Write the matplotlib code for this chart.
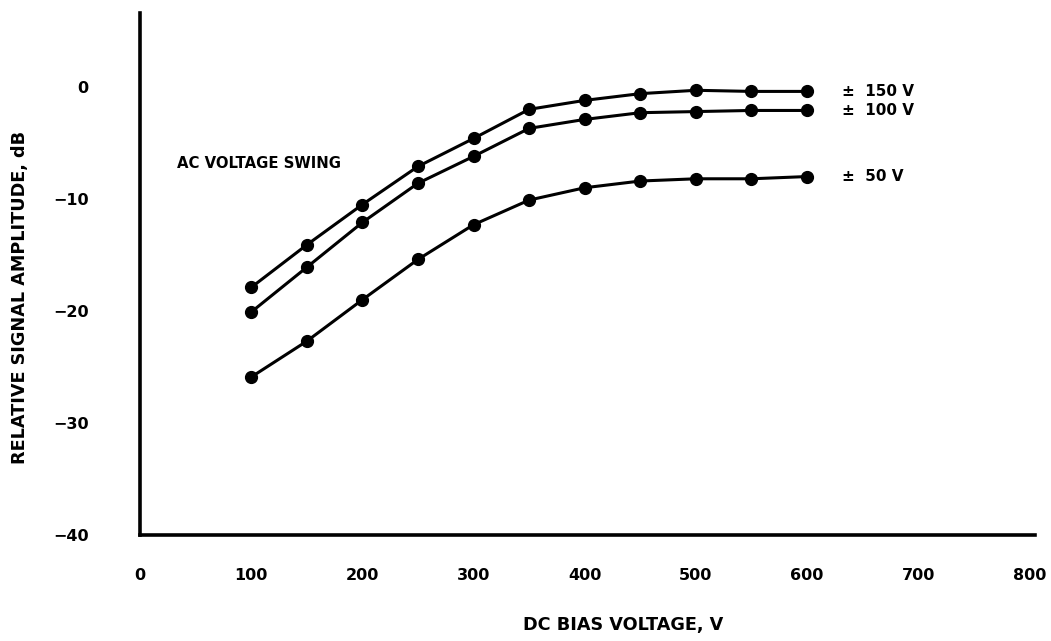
import matplotlib.pyplot as plt

# data
bias_v = [100, 150, 200, 250, 300, 350, 400, 450, 500, 550, 600]
swing_150 = [-17.9, -14.1, -10.5, -7.1, -4.6, -2.0, -1.2, -0.6, -0.3, -0.4, -0.4]
swing_100 = [-20.1, -16.1, -12.1, -8.6, -6.2, -3.7, -2.9, -2.3, -2.2, -2.1, -2.1]
swing_50 = [-25.9, -22.7, -19.0, -15.4, -12.3, -10.1, -9.0, -8.4, -8.2, -8.2, -8.0]
series_labels = ["\u00b1  150 V", "\u00b1  100 V", "\u00b1  50 V"]
x_ticks = [0, 100, 200, 300, 400, 500, 600, 700, 800]
y_ticks = [0, -10, -20, -30, -40]

plt.rcParams['font.family'] = ['DejaVu Sans']
plt.rcParams['font.weight'] = 'bold'

fig = plt.figure(figsize=(10.51, 6.41), dpi=100)
ax = fig.add_axes([140 / 1051, 1 - 535 / 641, 895 / 1051, 522 / 641])

for ys, lab in zip([swing_150, swing_100, swing_50], series_labels):
    ax.plot(bias_v, ys, color='black', linewidth=2.2, marker='o', markersize=8.5)
    ax.text(631, ys[-1], lab, fontsize=11, fontweight='bold', va='center', ha='left')

ax.text(33, -6.8, "AC VOLTAGE SWING", fontsize=10.7, fontweight='bold', va='center', ha='left')

ax.set_xlim(0, 805)
ax.set_ylim(-40, 6.6)
ax.set_xticks(x_ticks)
ax.set_yticks(y_ticks)
ax.set_xticklabels([str(t) for t in x_ticks], fontsize=11.5, fontweight='bold')
ax.set_yticklabels(["0", "\u221210", "\u221220", "\u221230", "\u221240"], fontsize=11.5, fontweight='bold')
ax.tick_params(axis='both', length=0)
ax.tick_params(axis='x', pad=24)
ax.tick_params(axis='y', pad=37)

for side in ['top', 'right']:
    ax.spines[side].set_visible(False)
for side in ['left', 'bottom']:
    ax.spines[side].set_linewidth(2.6)

fig.text(623 / 1051, 1 - 625 / 641, "DC BIAS VOLTAGE, V", fontsize=12.7, fontweight='bold',
         ha='center', va='center')
fig.text(20 / 1051, 1 - 297 / 641, "RELATIVE SIGNAL AMPLITUDE, dB", fontsize=12.7,
         fontweight='bold', ha='center', va='center', rotation=90)

fig.savefig("out.png", dpi=100)
